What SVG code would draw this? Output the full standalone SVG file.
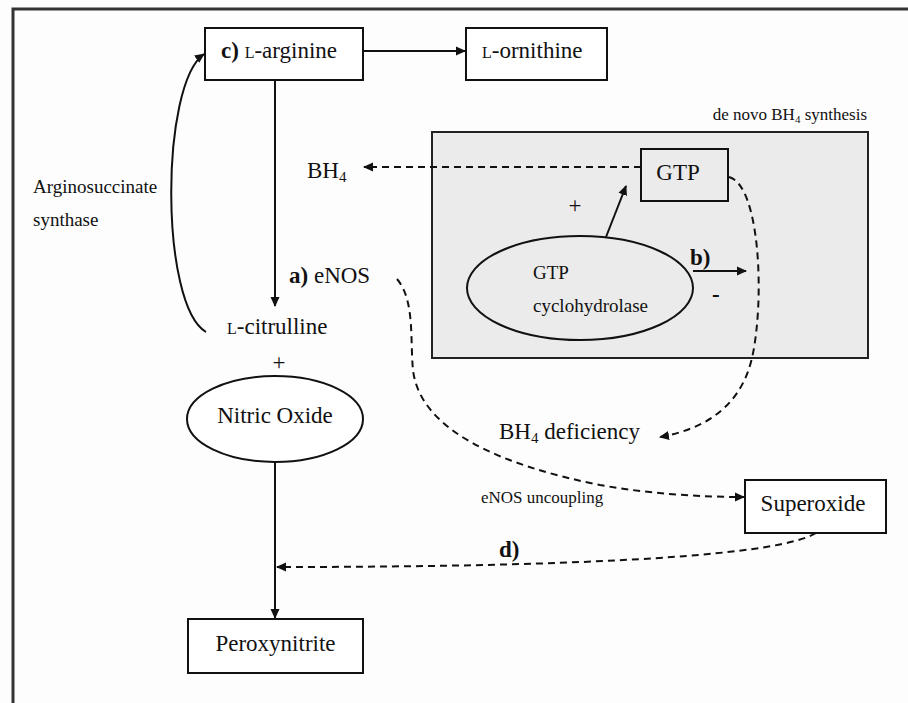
<svg xmlns="http://www.w3.org/2000/svg" width="908" height="703" viewBox="0 0 908 703">
<defs>
<marker id="ah" markerWidth="10" markerHeight="10" refX="9" refY="5" orient="auto" markerUnits="userSpaceOnUse">
<path d="M0,0.5 L10,5 L0,9.5 Z" fill="#111"/>
</marker>
<style>
text{font-family:"Liberation Serif","Times New Roman",serif;fill:#111}
.box{fill:#fff;stroke:#111;stroke-width:2}
.ln{fill:none;stroke:#111;stroke-width:2}
.dash{fill:none;stroke:#111;stroke-width:2;stroke-dasharray:7,5}
.t23{font-size:23px}
.t19{font-size:19px}
.t17{font-size:17px}
.sc{font-size:16px}
</style>
</defs>
<rect width="908" height="703" fill="#fdfdfd"/>
<path d="M13,703 V9 H908" fill="none" stroke="#333" stroke-width="3"/>

<g id="bh4-synthesis-area">
<rect x="432" y="132" width="436" height="226" fill="#ebebeb" stroke="#222" stroke-width="2"/>
<text x="867" y="120" class="t17" text-anchor="end">de novo BH<tspan font-size="11" dy="3">4</tspan><tspan dy="-3"> synthesis</tspan></text>
</g>

<g id="connectors">
<line class="ln" x1="363" y1="51" x2="465" y2="51" marker-end="url(#ah)"/>
<line class="ln" x1="275" y1="80" x2="275" y2="306" marker-end="url(#ah)"/>
<path class="ln" d="M206,332 C160,305 160,85 204,54" marker-end="url(#ah)"/>
<line class="dash" x1="641" y1="167" x2="364" y2="167" marker-end="url(#ah)"/>
<line class="ln" x1="606" y1="237" x2="626" y2="186" marker-end="url(#ah)"/>
<line class="ln" x1="693" y1="271" x2="746" y2="271" marker-end="url(#ah)"/>
<path class="dash" d="M729,177 C760,185 765,300 752,358 C740,410 700,430 660,437" marker-end="url(#ah)"/>
<path class="dash" d="M397,279 C415,300 410,340 413,370 C420,430 500,465 600,485 C650,494 700,497 744,497" marker-end="url(#ah)"/>
<line class="ln" x1="275" y1="463" x2="275" y2="618" marker-end="url(#ah)"/>
<path class="dash" d="M816,533 C780,555 600,567 277,567" marker-end="url(#ah)"/>
</g>

<g id="l-arginine">
<rect class="box" x="205" y="28" width="158" height="52"/>
<text x="221" y="58" class="t23"><tspan font-weight="bold">c)</tspan> <tspan class="sc">L</tspan>-arginine</text>
</g>

<g id="l-ornithine">
<rect class="box" x="466" y="28" width="141" height="52"/>
<text x="482" y="58" class="t23"><tspan class="sc">L</tspan>-ornithine</text>
</g>

<g id="arginosuccinate-label">
<text x="33" y="193" class="t19">Arginosuccinate</text>
<text x="33" y="226" class="t19">synthase</text>
</g>

<g id="bh4">
<text x="307" y="178" class="t23">BH<tspan font-size="15" dy="4">4</tspan></text>
</g>

<g id="gtp">
<rect x="641" y="149" width="87" height="52" fill="#ebebeb" stroke="#111" stroke-width="2"/>
<text x="678" y="180" class="t23" text-anchor="middle" font-size="25">GTP</text>
</g>

<g id="plus-gtp"><text x="575" y="213" class="t23" text-anchor="middle">+</text></g>

<g id="gtp-cyclohydrolase">
<ellipse cx="580" cy="288" rx="113" ry="52" fill="#ebebeb" stroke="#111" stroke-width="2"/>
<text x="533" y="279" class="t19">GTP</text>
<text x="533" y="312" class="t19">cyclohydrolase</text>
</g>

<g id="b-label">
<text x="690" y="265" class="t23" font-weight="bold">b)</text>
<text x="712" y="302" class="t23" font-weight="bold">-</text>
</g>

<g id="enos">
<text x="289" y="283" class="t23"><tspan font-weight="bold">a)</tspan> eNOS</text>
</g>

<g id="l-citrulline">
<text x="227" y="334" class="t23"><tspan class="sc">L</tspan>-citrulline</text>
</g>

<g id="plus-no"><text x="279" y="370" class="t23" text-anchor="middle">+</text></g>

<g id="nitric-oxide">
<ellipse cx="275" cy="419" rx="88" ry="43" fill="#fff" stroke="#111" stroke-width="2"/>
<text x="275" y="423" class="t23" text-anchor="middle">Nitric Oxide</text>
</g>

<g id="bh4-deficiency">
<text x="499" y="439" class="t23">BH<tspan font-size="15" dy="4">4</tspan><tspan dy="-4"> deficiency</tspan></text>
</g>

<g id="enos-uncoupling">
<text x="481" y="503" class="t17">eNOS uncoupling</text>
</g>

<g id="superoxide">
<rect class="box" x="745" y="480" width="141" height="53"/>
<text x="813" y="511" class="t23" text-anchor="middle">Superoxide</text>
</g>

<g id="d-label"><text x="499" y="557" class="t23" font-weight="bold">d)</text></g>

<g id="peroxynitrite">
<rect class="box" x="188" y="619" width="175" height="54"/>
<text x="275.5" y="651" class="t23" text-anchor="middle">Peroxynitrite</text>
</g>
</svg>
